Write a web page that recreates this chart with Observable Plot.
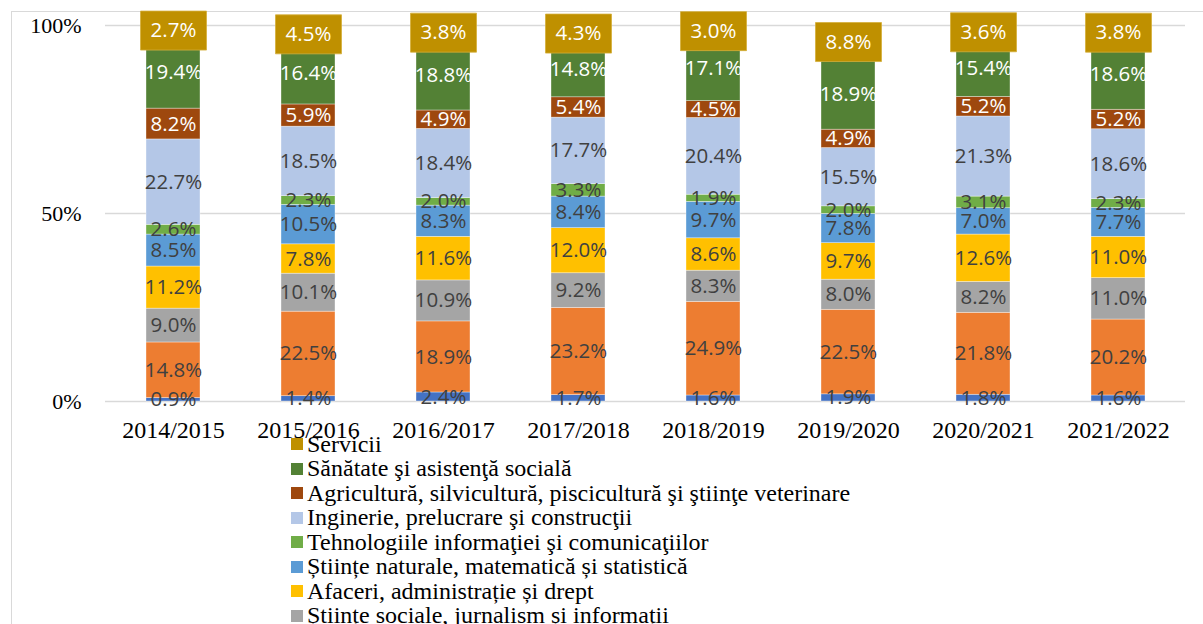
<!DOCTYPE html>
<html>
<head>
<meta charset="utf-8">
<script src="https://cdn.jsdelivr.net/npm/d3@7"></script>
<script src="https://cdn.jsdelivr.net/npm/@observablehq/plot@0.6"></script>
<style>
  html, body { margin: 0; padding: 0; background: #fff; width: 1203px; height: 624px; overflow: hidden; position: relative; }
  #frame { position: absolute; left: 11px; top: 11px; width: 1400px; height: 800px; border-left: 1.5px solid #d9d9d9; border-top: 1.5px solid #d9d9d9; box-sizing: border-box; }
  #chart { position: absolute; left: 0; top: 0; }
  #chart svg [aria-label="y-axis tick label"], #chart svg [aria-label="x-axis tick label"] { font-family: "Liberation Serif", "Times New Roman", serif; font-variant: normal; }
  #legend { position: absolute; left: 291px; top: 431.75px; font-family: "Liberation Serif", "Times New Roman", serif; font-size: 24px; color: #000; }
  .item { display: flex; align-items: center; height: 24.5px; line-height: 24.5px; white-space: nowrap; }
  .sw { width: 12px; height: 12px; margin-right: 4px; flex: none; }
</style>
</head>
<body>
<div id="frame"></div>
<div id="chart"></div>
<div id="legend"></div>
<script>
const years = ["2014/2015", "2015/2016", "2016/2017", "2017/2018", "2018/2019", "2019/2020", "2020/2021", "2021/2022"];

// series, bottom to top
const series = [
  "Educație",
  "Arte și științe umaniste",
  "Științe sociale, jurnalism și informații",
  "Afaceri, administrație și drept",
  "Științe naturale, matematică și statistică",
  "Tehnologiile informaţiei şi comunicaţiilor",
  "Inginerie, prelucrare şi construcţii",
  "Agricultură, silvicultură, piscicultură şi ştiinţe veterinare",
  "Sănătate şi asistenţă socială",
  "Servicii"
];
const colors = ["#4472C4", "#ED7D31", "#A5A5A5", "#FFC000", "#5B9BD5", "#70AD47", "#B4C7E7", "#9E480E", "#538135", "#BF9000"];

const educatie    = [0.9, 1.4, 2.4, 1.7, 1.6, 1.9, 1.8, 1.6];
const arte        = [14.8, 22.5, 18.9, 23.2, 24.9, 22.5, 21.8, 20.2];
const sociale     = [9.0, 10.1, 10.9, 9.2, 8.3, 8.0, 8.2, 11.0];
const afaceri     = [11.2, 7.8, 11.6, 12.0, 8.6, 9.7, 12.6, 11.0];
const naturale    = [8.5, 10.5, 8.3, 8.4, 9.7, 7.8, 7.0, 7.7];
const tic         = [2.6, 2.3, 2.0, 3.3, 1.9, 2.0, 3.1, 2.3];
const inginerie   = [22.7, 18.5, 18.4, 17.7, 20.4, 15.5, 21.3, 18.6];
const agricultura = [8.2, 5.9, 4.9, 5.4, 4.5, 4.9, 5.2, 5.2];
const sanatate    = [19.4, 16.4, 18.8, 14.8, 17.1, 18.9, 15.4, 18.6];
const servicii    = [2.7, 4.5, 3.8, 4.3, 3.0, 8.8, 3.6, 3.8];

const yTicks = [0, 50, 100];

const valuesBySeries = [educatie, arte, sociale, afaceri, naturale, tic, inginerie, agricultura, sanatate, servicii];
const data = years.flatMap((year, i) =>
  series.map((s, j) => ({year, series: s, value: valuesBySeries[j][i]}))
);

const whiteText = new Set([series[7], series[8], series[9]]);
const topSeries = series[9];

const stackOpts = {x: "year", y: "value"};

// label box symbol (fixed pixel size, centred on the segment midpoint)
const boxSymbol = {
  draw(ctx) {
    const w = 33, h = 19.5;
    ctx.moveTo(-w, -h); ctx.lineTo(w, -h); ctx.lineTo(w, h); ctx.lineTo(-w, h); ctx.closePath();
  }
};

const labelFont = {fontFamily: "Open Sans", fontSize: 20.5};
const serif = "Liberation Serif";

const chart = Plot.plot({
  width: 1203,
  height: 450,
  marginTop: 25,
  marginBottom: 49,
  marginLeft: 105,
  marginRight: 18,
  style: {background: "transparent", fontFamily: serif, color: "#000"},
  x: {domain: years, paddingInner: 0.6, paddingOuter: 0.3, label: null},
  y: {domain: [0, 100], label: null},
  color: {domain: series, range: colors},
  marks: [
    Plot.ruleY(yTicks, {stroke: "#d9d9d9", strokeWidth: 1.5}),
    Plot.axisX({tickSize: 0, tickPadding: 19, fontFamily: serif, fontSize: 24, fill: "#000", label: null}),
    Plot.axisY(yTicks, {tickSize: 0, tickPadding: 24, tickFormat: d => d + "%", fontFamily: serif, fontSize: 22, fill: "#000", label: null}),
    Plot.barY(data, Plot.stackY({...stackOpts, fill: "series", stroke: "white", strokeWidth: 0.6, strokeOpacity: 0.6})),
    Plot.dot(data, Plot.filter(d => d.series === topSeries,
      Plot.stackY({...stackOpts, symbol: boxSymbol, r: 5, fill: colors[9], stroke: "#D4AE3A", strokeWidth: 0.8}))),
    Plot.text(data, Plot.filter(d => !whiteText.has(d.series),
      Plot.stackY({...stackOpts, text: d => d.value.toFixed(1) + "%", fill: "#404040", ...labelFont}))),
    Plot.text(data, Plot.filter(d => whiteText.has(d.series),
      Plot.stackY({...stackOpts, text: d => d.value.toFixed(1) + "%", fill: "white", ...labelFont})))
  ]
});
document.getElementById("chart").appendChild(chart);

// legend: top of stack first
const legend = document.getElementById("legend");
for (let j = series.length - 1; j >= 0; j--) {
  const item = document.createElement("div");
  item.className = "item";
  const sw = document.createElement("span");
  sw.className = "sw";
  sw.style.background = colors[j];
  const label = document.createElement("span");
  label.textContent = series[j];
  item.appendChild(sw);
  item.appendChild(label);
  legend.appendChild(item);
}
</script>
</body>
</html>
